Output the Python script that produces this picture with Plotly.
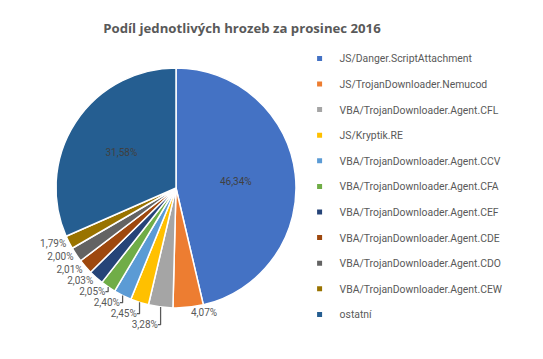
import plotly.graph_objects as go

categories = [
    "JS/Danger.ScriptAttachment",
    "JS/TrojanDownloader.Nemucod",
    "VBA/TrojanDownloader.Agent.CFL",
    "JS/Kryptik.RE",
    "VBA/TrojanDownloader.Agent.CCV",
    "VBA/TrojanDownloader.Agent.CFA",
    "VBA/TrojanDownloader.Agent.CEF",
    "VBA/TrojanDownloader.Agent.CDE",
    "VBA/TrojanDownloader.Agent.CDO",
    "VBA/TrojanDownloader.Agent.CEW",
    "ostatní",
]
values = [46.34, 4.07, 3.28, 2.45, 2.40, 2.05, 2.03, 2.01, 2.00, 1.79, 31.58]
colors = ["#4472C4", "#ED7D31", "#A5A5A5", "#FFC000", "#5B9BD5", "#70AD47",
          "#264478", "#9E480E", "#636363", "#997300", "#255E91"]

text_pos = ["inside" if v > 10 else "outside" for v in values]

fig = go.Figure()
fig.add_trace(go.Pie(
    labels=categories, values=values, sort=False, direction="clockwise",
    rotation=0,
    marker=dict(colors=colors, line=dict(color="white", width=1.5)),
    texttemplate="%{percent:.2%}",
    textposition=text_pos,
    insidetextorientation="horizontal",
    textfont=dict(family="Roboto", size=10, color="#404040"),
    outsidetextfont=dict(family="Roboto", size=10, color="#595959"),
    showlegend=False,
    hoverinfo="label+percent",
    domain=dict(x=[0.0884, 0.5304], y=[0.1643, 0.8329]),
))
for cat, col in zip(categories, colors):
    fig.add_trace(go.Scatter(
        x=[None], y=[None], mode="markers", name=cat, legendgroup=cat,
        marker=dict(symbol="square", size=5, color=col),
    ))

fig.update_layout(
    width=543, height=359,
    margin=dict(l=0, r=0, t=0, b=0),
    paper_bgcolor="white", plot_bgcolor="white",
    separators=", ",
    title=dict(text="<b>Podíl jednotlivých hrozeb za prosinec 2016</b>",
               x=0.4309, xanchor="center", y=0.944, yanchor="middle",
               font=dict(family="Open Sans", size=13.2, color="#595959")),
    xaxis=dict(visible=False), yaxis=dict(visible=False),
    legend=dict(x=0.537, y=0.9, xanchor="left", yanchor="top",
                font=dict(family="Roboto", size=10.4, color="#595959"),
                tracegroupgap=6.6, itemwidth=30, bgcolor="rgba(0,0,0,0)"),
)
fig.write_html("out.html")
